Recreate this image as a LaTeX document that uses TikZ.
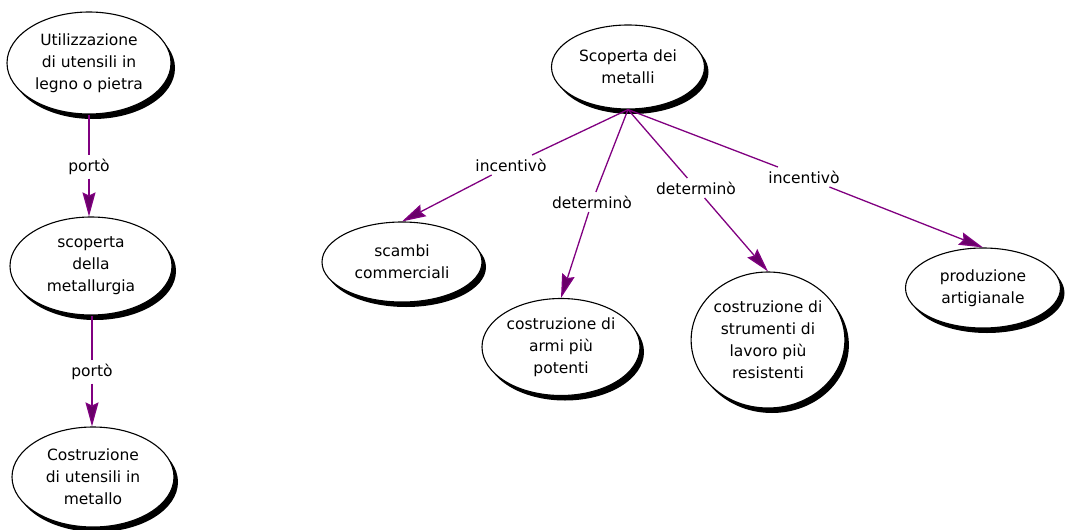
\documentclass[tikz,border=0pt]{standalone}
\usepackage{fontspec}
\setmainfont{DejaVu Sans}
\usetikzlibrary{shapes.geometric,shadows,arrows.meta}
\definecolor{linkpurple}{RGB}{128,0,128}
\definecolor{tippurple}{RGB}{105,0,105}
\begin{document}
\begin{tikzpicture}[x=1pt,y=-1pt,
  concept/.style={ellipse, draw=black, line width=1.1pt, fill=white, inner sep=0pt,
    align=center, font=\fontsize{15.5}{22}\selectfont,
    drop shadow={shadow xshift=4pt, shadow yshift=-5pt, fill=black, opacity=1}},
  lab/.style={inner sep=3.5pt, font=\fontsize{15.5}{22}\selectfont},
  link/.style={draw=linkpurple, line width=1.3pt},
  arr/.style={link, -{Stealth[length=24pt,width=13pt,inset=3pt,fill=tippurple]}}
]
\useasboundingbox (0,0) rectangle (1066,530);

% left column
\node[concept, minimum width=164pt, minimum height=102pt] (A) at (89,63) {Utilizzazione\\di utensili in\\legno o pietra};
\node[concept, minimum width=162pt, minimum height=98pt] (B) at (91,266) {scoperta\\della\\metallurgia};
\node[concept, minimum width=162pt, minimum height=100pt] (C) at (93,477) {Costruzione\\di utensili in\\metallo};
\node[lab] (p1) at (89,167) {portò};
\node[lab] (p2) at (92,372) {portò};

% right group
\node[concept, minimum width=153pt, minimum height=84pt] (S) at (628,67) {Scoperta dei\\metalli};
\node[concept, minimum width=160pt, minimum height=80pt] (sc) at (402,262) {scambi\\commerciali};
\node[concept, minimum width=158pt, minimum height=97pt] (ar) at (561,347) {costruzione di\\armi più\\potenti};
\node[concept, minimum width=153pt, minimum height=136pt] (st) at (768,340) {costruzione di\\strumenti di\\lavoro più\\resistenti};
\node[concept, minimum width=155pt, minimum height=80pt] (pr) at (983,288) {produzione\\artigianale};

\node[lab] (i1) at (511,165) {incentivò};
\node[lab] (d1) at (592,202) {determinò};
\node[lab] (d2) at (696,188) {determinò};
\node[lab] (i2) at (804,177) {incentivò};

% connectors
\draw[link] (A.south) -- (p1);
\draw[arr] (p1) -- (p1 |- B.north);
\draw[link] (p2 |- B.south) -- (p2);
\draw[arr] (p2) -- (p2 |- C.north);

\draw[link] (S.south) -- (i1);
\draw[arr] (i1) -- (sc.north);
\draw[link] (S.south) -- (d1);
\draw[arr] (d1) -- (ar.north);
\draw[link] (S.south) -- (d2);
\draw[arr] (d2) -- (st.north);
\draw[link] (S.south) -- (i2);
\draw[arr] (i2) -- (pr.north);
\end{tikzpicture}
\end{document}
